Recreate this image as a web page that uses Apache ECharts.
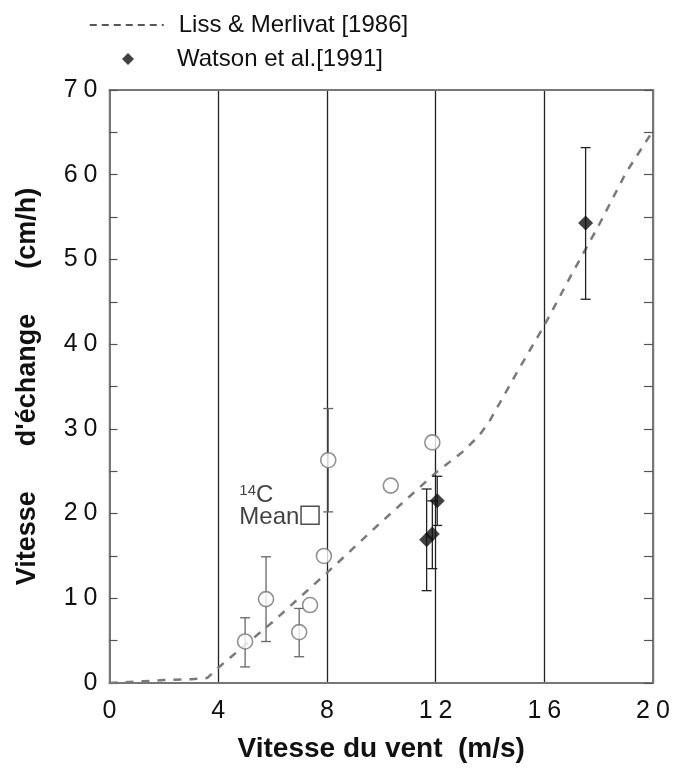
<!DOCTYPE html>
<html>
<head>
<meta charset="utf-8">
<script src="https://cdn.jsdelivr.net/npm/echarts@6/dist/echarts.min.js"></script>
<style>
  html, body { margin: 0; padding: 0; background: #fff; }
  #chart { width: 678px; height: 769px; }
</style>
</head>
<body>
<div id="chart"></div>
<script>
// Liss & Merlivat [1986] curve
const lissCurve = [
  [0, 0], [1, 0.17], [2, 0.34], [3, 0.45], [3.6, 0.6], [4, 1.8], [5, 4.5],
  [6, 7.2], [7, 10.1], [8, 13], [9, 16], [10, 19], [11, 21.9], [12, 24.8],
  [13, 27.3], [13.6, 29.2], [14, 31], [15, 36.7], [16, 42.2], [17, 48.2],
  [18, 54], [19, 60.2], [20, 65.2]
];
// open circles [vent, echange]
const circles = [
  [4.99, 4.9], [5.76, 9.9], [6.98, 6.0], [7.38, 9.2], [7.89, 15.0],
  [8.05, 26.3], [10.35, 23.3], [11.88, 28.4]
];
// [vent, bas, haut]
const circleErrors = [
  [4.99, 1.9, 7.7], [5.76, 4.9, 14.9], [6.98, 3.1, 8.8], [8.05, 20.2, 32.4]
];
// Watson et al. [1991]
const watson = [[11.67, 16.9], [11.88, 17.6], [12.06, 21.5], [17.52, 54.3]];
const watsonErrors = [
  [11.67, 10.9, 22.9], [11.88, 13.5, 21.5], [12.06, 18.6, 24.4], [17.52, 45.3, 63.2]
];
const c14Mean = [[7.38, 19.8]];

const xTicks = [0, 4, 8, 12, 16, 20];
const yTicks = [0, 10, 20, 30, 40, 50, 60, 70];

const FONT = "Liberation Sans";

// wide-set digits like the original print
function spaced(v) {
  return String(v).split("").map(ch => "{d|" + ch + "}").join("");
}
const digitRich = { d: { fontSize: 25, color: "#111", padding: [0, 3, 0, 3], fontFamily: FONT } };

function errorBars(color, width) {
  return function (params, api) {
    const x = api.value(0);
    const lo = api.coord([x, api.value(1)]);
    const hi = api.coord([x, api.value(2)]);
    const cap = 5;
    const style = { stroke: color, lineWidth: width };
    return {
      type: "group",
      children: [
        { type: "line", shape: { x1: lo[0], y1: lo[1], x2: hi[0], y2: hi[1] }, style },
        { type: "line", shape: { x1: lo[0] - cap, y1: lo[1], x2: lo[0] + cap, y2: lo[1] }, style },
        { type: "line", shape: { x1: hi[0] - cap, y1: hi[1], x2: hi[0] + cap, y2: hi[1] }, style }
      ]
    };
  };
}

const chart = echarts.init(document.getElementById("chart"));

const frameLine = { show: true, onZero: false, lineStyle: { color: "#777", width: 2 } };

chart.setOption({
  animation: false,
  textStyle: { fontFamily: FONT },
  grid: { left: 109.5, right: 25, top: 90, bottom: 86, containLabel: false },
  legend: [
    {
      data: ["Liss & Merlivat [1986]"],
      left: 89, top: 13, padding: 0,
      itemWidth: 74, itemHeight: 10,
      itemStyle: { opacity: 0 },
      lineStyle: { color: "#222", type: [7, 5], width: 1.5 },
      textStyle: { fontSize: 24, color: "#111", fontFamily: FONT, padding: [0, 0, 0, 10] }
    },
    {
      data: ["Watson et al.[1991]"],
      left: 122, top: 47, padding: 0,
      itemWidth: 12, itemHeight: 12,
      textStyle: { fontSize: 24, color: "#111", fontFamily: FONT, padding: [0, 0, 0, 38] }
    }
  ],
  xAxis: [
    {
      type: "value", min: 0, max: 20, interval: 4,
      name: "Vitesse du vent  (m/s)", nameLocation: "middle", nameGap: 52,
      nameTextStyle: { fontSize: 28, fontWeight: "bold", color: "#111", fontFamily: FONT },
      axisLine: frameLine,
      axisTick: { show: false },
      axisLabel: { color: "#111", margin: 16, rich: digitRich,
        formatter: v => xTicks.includes(v) ? spaced(v) : "" },
      splitLine: { show: true, lineStyle: { color: "#222", width: 1.3 } }
    },
    {
      type: "value", min: 0, max: 20, interval: 4, position: "top",
      axisLine: frameLine, axisTick: { show: false }, axisLabel: { show: false },
      splitLine: { show: false }
    }
  ],
  yAxis: [
    {
      type: "value", min: 0, max: 70, interval: 10,
      name: "Vitesse      d'échange      (cm/h)", nameLocation: "middle", nameGap: 68,
      nameRotate: 90,
      nameTextStyle: { fontSize: 27, fontWeight: "bold", color: "#111", fontFamily: FONT },
      axisLine: frameLine,
      axisTick: { show: true, inside: true, length: 8, lineStyle: { color: "#555", width: 1.2 } },
      minorTick: { show: true, splitNumber: 2, length: 8, lineStyle: { color: "#555", width: 1.2 } },
      axisLabel: { color: "#111", margin: 9, rich: digitRich,
        formatter: v => yTicks.includes(v) ? spaced(v) : "" },
      splitLine: { show: false }
    },
    {
      type: "value", min: 0, max: 70, interval: 10, position: "right",
      axisLine: frameLine,
      axisTick: { show: true, inside: true, length: 9, lineStyle: { color: "#555", width: 1.2 } },
      minorTick: { show: true, splitNumber: 2, length: 9, lineStyle: { color: "#555", width: 1.2 } },
      axisLabel: { show: false },
      splitLine: { show: false }
    }
  ],
  series: [
    {
      name: "Liss & Merlivat [1986]",
      type: "line",
      data: lissCurve,
      symbol: "none",
      smooth: false,
      lineStyle: { color: "#7a7a7a", width: 2.5, type: [8, 8] },
      z: 3
    },
    {
      name: "circleErrors",
      type: "custom",
      data: circleErrors,
      encode: { x: 0, y: [1, 2] },
      renderItem: errorBars("#666", 1.3),
      z: 4
    },
    {
      name: "watsonErrors",
      type: "custom",
      data: watsonErrors,
      encode: { x: 0, y: [1, 2] },
      renderItem: errorBars("#222", 1.3),
      z: 4
    },
    {
      name: "circles",
      type: "scatter",
      data: circles,
      symbol: "circle",
      symbolSize: 15,
      itemStyle: { color: "#fff", borderColor: "#777", borderWidth: 1.6 },
      z: 5
    },
    {
      name: "Watson et al.[1991]",
      type: "scatter",
      data: watson,
      symbol: "diamond",
      symbolSize: 15,
      itemStyle: { color: "#111" },
      z: 6
    },
    {
      name: "c14",
      type: "scatter",
      data: c14Mean,
      symbol: "rect",
      symbolSize: 18,
      itemStyle: { color: "#fff", borderColor: "#222", borderWidth: 1.5 },
      label: {
        show: true,
        position: [-61, -22],
        align: "left",
        verticalAlign: "top",
        formatter: "{s|14}{c|C}\n{c|Mean}",
        rich: {
          s: { fontSize: 15, color: "#111", verticalAlign: "top", padding: [0, 0, 8, 0], fontFamily: FONT },
          c: { fontSize: 24, color: "#111", lineHeight: 22, fontFamily: FONT }
        }
      },
      z: 6
    }
  ]
});
</script>
</body>
</html>
